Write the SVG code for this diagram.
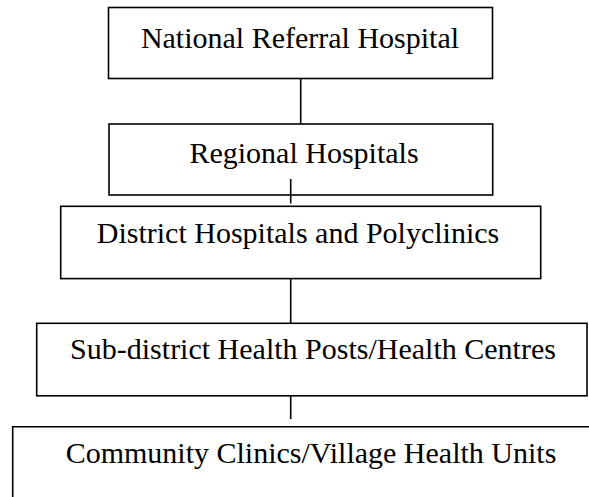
<svg xmlns="http://www.w3.org/2000/svg" width="589" height="497" viewBox="0 0 589 497">
  <style>
    .box { fill: #ffffff; stroke: #000000; stroke-width: 1.6; }
    .link { stroke: #000000; stroke-width: 1.6; fill: none; }
    .label { font-family: "Liberation Serif", "Times New Roman", serif; font-size: 30px; fill: #000000; text-anchor: middle; }
  </style>
  <rect width="589" height="497" fill="#ffffff"/>

  <g id="national">
    <rect class="box" x="108.5" y="7.5" width="384" height="71"/>
    <text class="label" x="300" y="48">National Referral Hospital</text>
  </g>

  <g id="regional">
    <rect class="box" x="109" y="124" width="383.7" height="71"/>
    <text class="label" x="304" y="163">Regional Hospitals</text>
  </g>

  <g id="district">
    <rect class="box" x="60.7" y="206.3" width="480" height="72.3"/>
    <text class="label" x="298" y="243">District Hospitals and Polyclinics</text>
  </g>

  <g id="subdistrict">
    <rect class="box" x="36.7" y="323.3" width="550.3" height="72.5"/>
    <text class="label" x="313" y="359">Sub-district Health Posts/Health Centres</text>
  </g>

  <g id="community">
    <path class="box" d="M 600 426.7 H 12.7 V 500"/>
    <text class="label" x="311" y="463">Community Clinics/Village Health Units</text>
  </g>

  <g id="connectors">
    <line class="link" x1="300.7" y1="78.5" x2="300.7" y2="124"/>
    <line class="link" x1="290.7" y1="179" x2="290.7" y2="203.5"/>
    <line class="link" x1="290.7" y1="278.6" x2="290.7" y2="323.3"/>
    <line class="link" x1="290.7" y1="395.8" x2="290.7" y2="419"/>
  </g>
</svg>
